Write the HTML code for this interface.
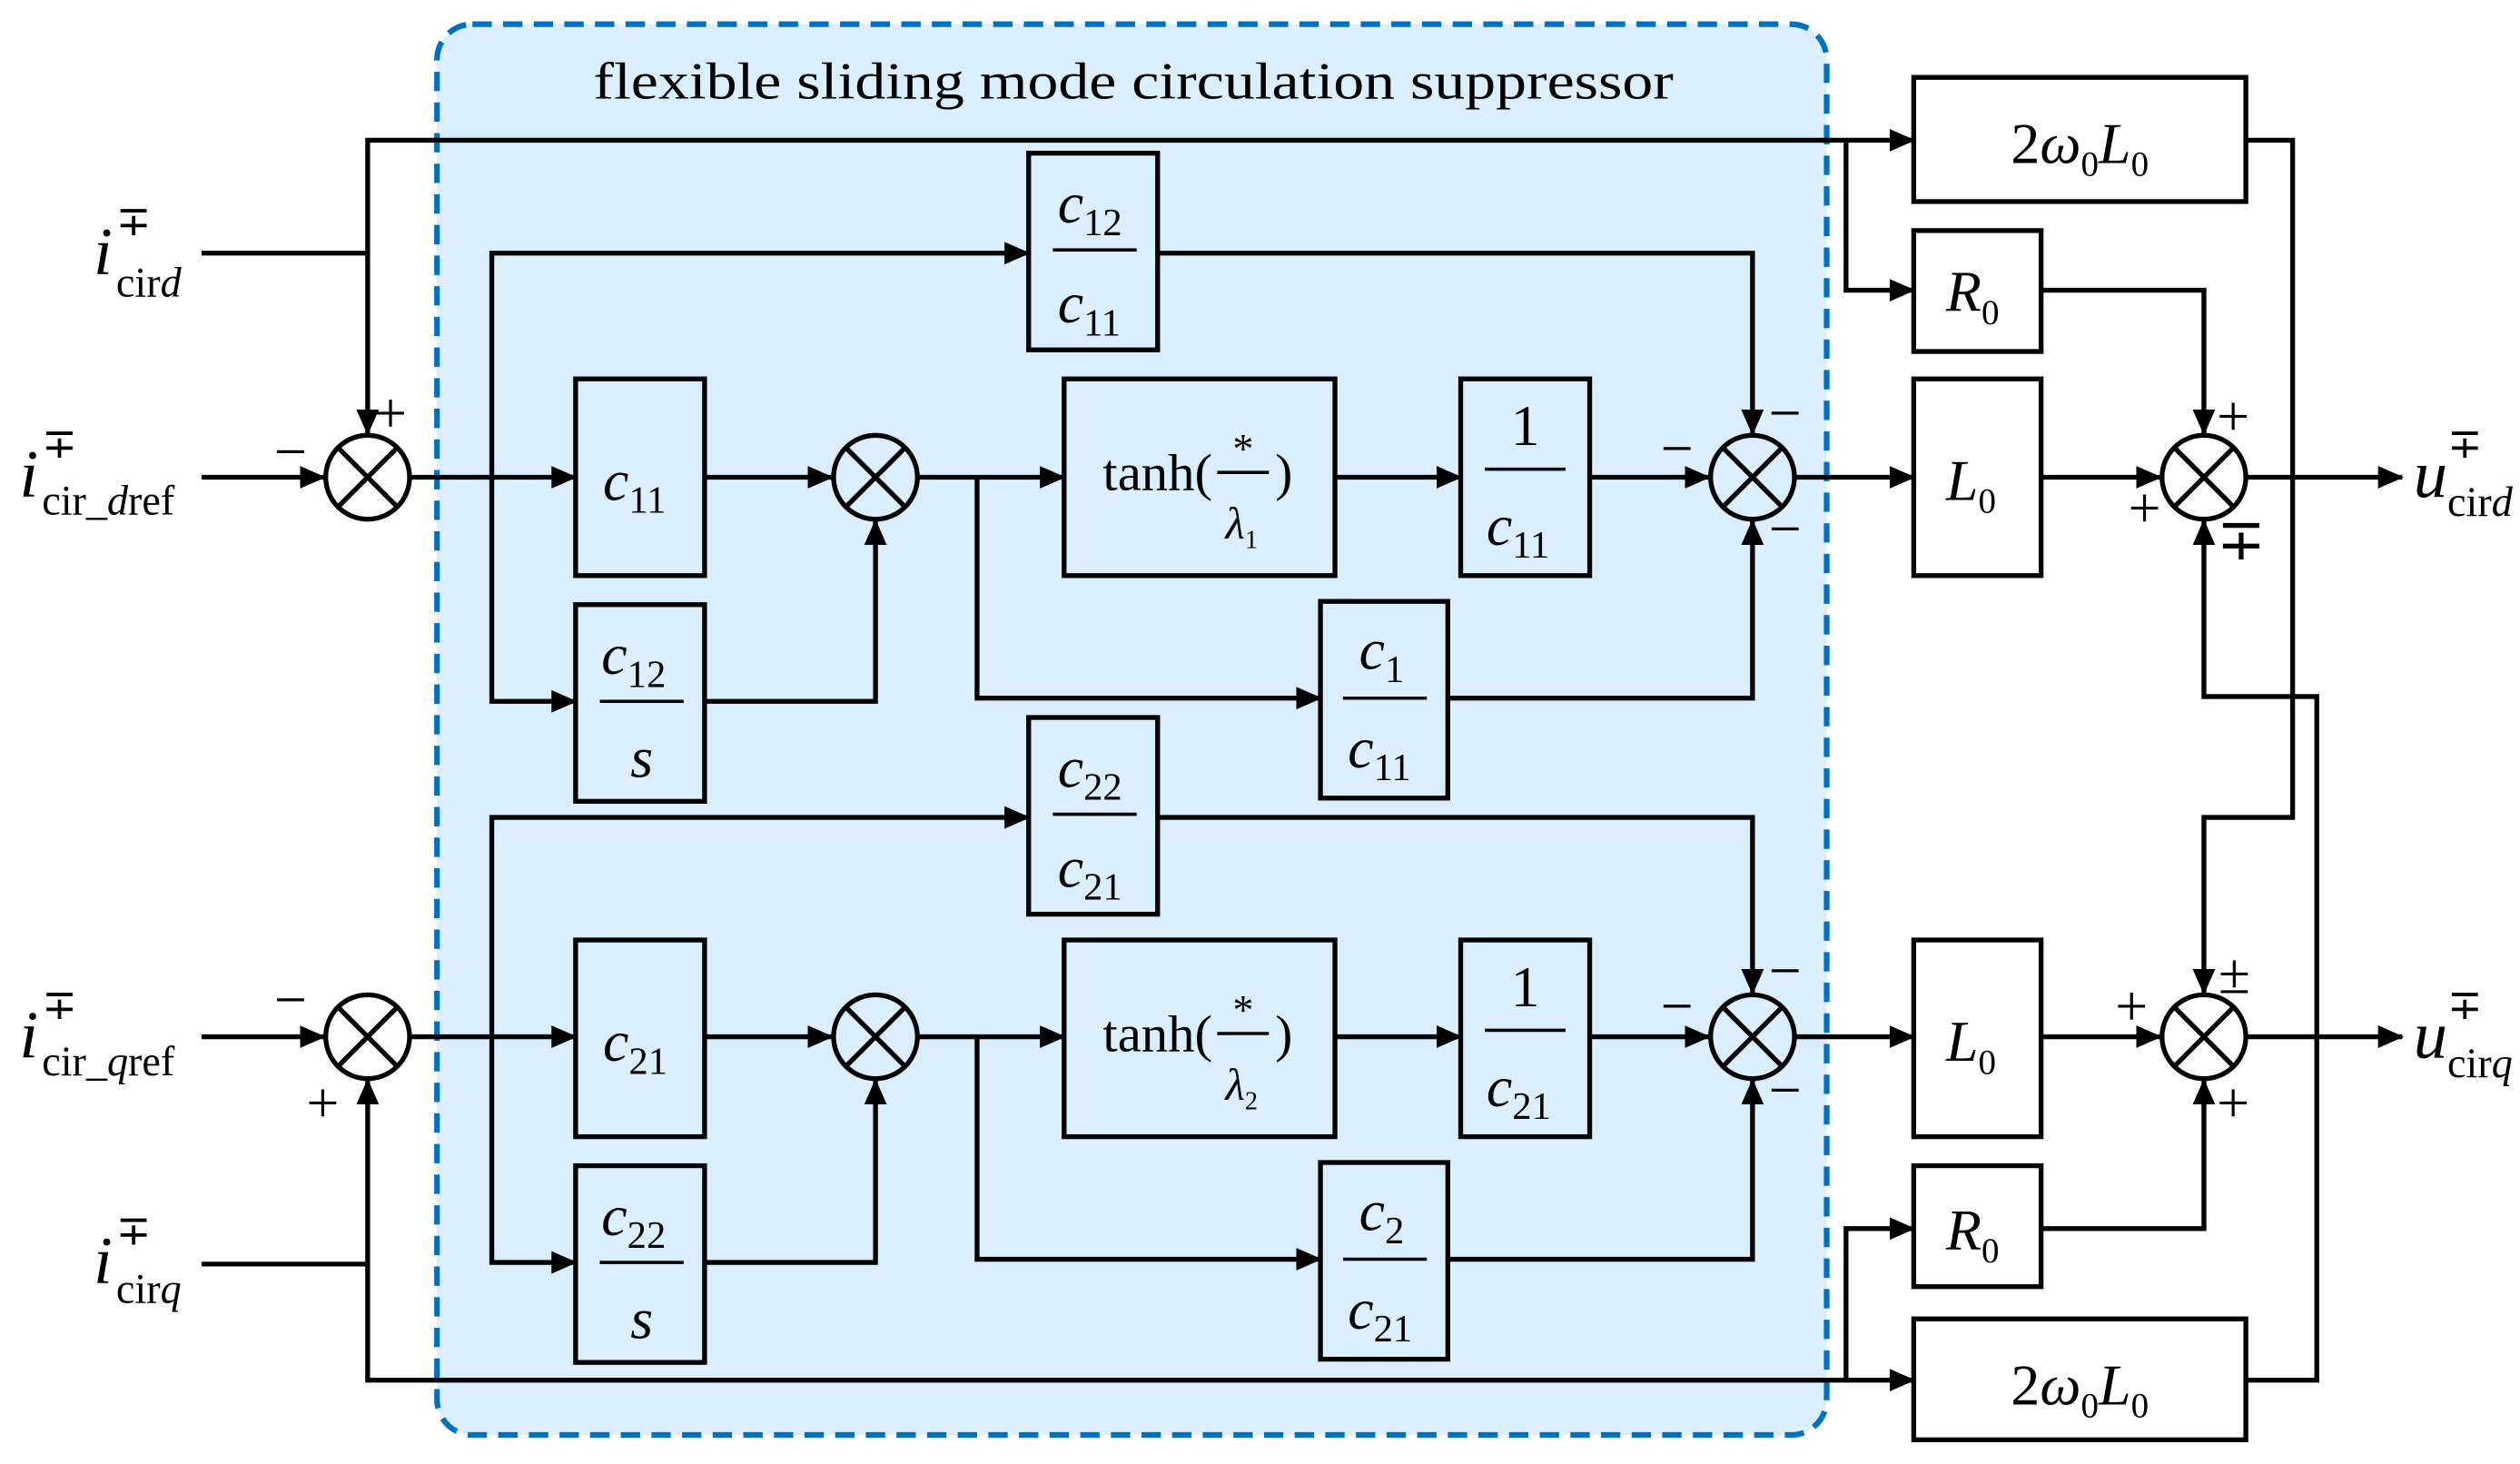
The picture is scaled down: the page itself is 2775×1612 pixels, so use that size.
<!DOCTYPE html>
<html><head><meta charset="utf-8"><style>html,body{margin:0;padding:0;background:#fff}svg{display:block}
text{font-family:"Liberation Serif",serif;fill:#000}
.m{font-style:italic}
</style></head><body>
<svg width="2775" height="1612" viewBox="0 0 1563 908" xmlns="http://www.w3.org/2000/svg">
<defs><marker id="a" markerUnits="userSpaceOnUse" markerWidth="16" markerHeight="14" refX="15" refY="7" orient="auto"><path d="M0,0 L16,7 L0,14 z" fill="#000"/></marker></defs>
<rect x="271" y="15" width="862" height="875" rx="22" fill="#dbeefe" stroke="#0070c0" stroke-width="3.5" stroke-dasharray="12,7"/>
<text x="368" y="61" font-size="32" textLength="670" lengthAdjust="spacingAndGlyphs">flexible sliding mode circulation suppressor</text>
<g fill="none" stroke="#000" stroke-width="3">
<rect x="1187" y="48" width="206" height="77"/><rect x="1187" y="143" width="79" height="75"/><rect x="1187" y="235" width="79" height="122"/>
<rect x="638" y="95" width="80" height="122"/><rect x="357" y="235" width="80" height="122"/><rect x="357" y="375" width="80" height="122"/>
<rect x="660" y="235" width="168" height="122"/><rect x="906" y="235" width="80" height="122"/><rect x="819" y="373" width="79" height="122"/>
<rect x="638" y="445" width="80" height="122"/><rect x="357" y="583" width="80" height="122"/><rect x="357" y="723" width="80" height="122"/>
<rect x="660" y="583" width="168" height="122"/><rect x="906" y="583" width="80" height="122"/><rect x="819" y="721" width="79" height="122"/>
<rect x="1187" y="583" width="79" height="122"/><rect x="1187" y="723" width="79" height="75"/><rect x="1187" y="818" width="206" height="75"/>
<circle cx="228" cy="296" r="26"/><circle cx="543" cy="296" r="26"/><circle cx="1087" cy="296" r="26"/><circle cx="1367" cy="296" r="26"/>
<circle cx="228" cy="643" r="26"/><circle cx="543" cy="643" r="26"/><circle cx="1087" cy="643" r="26"/><circle cx="1367" cy="643" r="26"/>
<path d="M209.6,277.6l36.8,36.8M246.4,277.6l-36.8,36.8M524.6,277.6l36.8,36.8M561.4,277.6l-36.8,36.8M1068.6,277.6l36.8,36.8M1105.4,277.6l-36.8,36.8M1348.6,277.6l36.8,36.8M1385.4,277.6l-36.8,36.8"/>
<path d="M209.6,624.6l36.8,36.8M246.4,624.6l-36.8,36.8M524.6,624.6l36.8,36.8M561.4,624.6l-36.8,36.8M1068.6,624.6l36.8,36.8M1105.4,624.6l-36.8,36.8M1348.6,624.6l36.8,36.8M1385.4,624.6l-36.8,36.8"/>
<g marker-end="url(#a)">
<path d="M125,157H228V269"/><path d="M228,157V87H1187"/><path d="M1145,87V180H1187"/>
<path d="M125,296H201"/><path d="M254,296H357"/><path d="M305,296V157H638"/><path d="M305,296V435H357"/>
<path d="M437,296H516"/><path d="M437,435H543V323"/><path d="M569,296H660"/><path d="M606,296V433H819"/>
<path d="M828,296H906"/><path d="M986,296H1060"/><path d="M718,157H1087V269"/><path d="M898,433H1087V323"/>
<path d="M1113,296H1187"/><path d="M1266,296H1340"/><path d="M1266,180H1367V269"/><path d="M1393,296H1490"/>
<path d="M1393,87H1422V507H1367V616"/><path d="M1393,856H1437V432H1367V323"/>
<path d="M125,784H228V670"/><path d="M228,784V856H1187"/><path d="M1145,856V762H1187"/>
<path d="M125,643H201"/><path d="M254,643H357"/><path d="M305,643V507H638"/><path d="M305,643V783H357"/>
<path d="M437,643H516"/><path d="M437,783H543V670"/><path d="M569,643H660"/><path d="M606,643V781H819"/>
<path d="M828,643H906"/><path d="M986,643H1060"/><path d="M718,507H1087V616"/><path d="M898,781H1087V670"/>
<path d="M1113,643H1187"/><path d="M1266,643H1340"/><path d="M1266,762H1367V670"/><path d="M1393,643H1490"/>
</g>
<path stroke-width="2" d="M653,155H705M372,435H424M921,291H971M833,433H885M653,505H705M372,783H424M921,639H971M833,781H885M755,293H787M755,641H787"/>
</g>
<g font-size="36">
<text x="1290" y="101" text-anchor="middle">2<tspan class="m">ω</tspan><tspan font-size="22" dy="8">0</tspan><tspan class="m" dy="-8">L</tspan><tspan font-size="22" dy="8">0</tspan></text>
<text x="1290" y="871" text-anchor="middle">2<tspan class="m">ω</tspan><tspan font-size="22" dy="8">0</tspan><tspan class="m" dy="-8">L</tspan><tspan font-size="22" dy="8">0</tspan></text>
<text x="1207" y="193" class="m">R<tspan font-size="22" dy="8" font-style="normal">0</tspan></text>
<text x="1207" y="775" class="m">R<tspan font-size="22" dy="8" font-style="normal">0</tspan></text>
<text x="1207" y="310" class="m">L<tspan font-size="22" dy="8" font-style="normal">0</tspan></text>
<text x="1207" y="658" class="m">L<tspan font-size="22" dy="8" font-style="normal">0</tspan></text>
<text x="374" y="310" class="m">c<tspan font-size="24" dy="8" font-style="normal">11</tspan></text>
<text x="374" y="658" class="m">c<tspan font-size="24" dy="8" font-style="normal">21</tspan></text>
<text x="656" y="138" class="m">c<tspan font-size="24" dy="8" font-style="normal">12</tspan></text>
<text x="656" y="200" class="m">c<tspan font-size="24" dy="8" font-style="normal">11</tspan></text>
<text x="656" y="488" class="m">c<tspan font-size="24" dy="8" font-style="normal">22</tspan></text>
<text x="656" y="550" class="m">c<tspan font-size="24" dy="8" font-style="normal">21</tspan></text>
<text x="373" y="418" class="m">c<tspan font-size="24" dy="8" font-style="normal">12</tspan></text>
<text x="398" y="482" class="m" text-anchor="middle">s</text>
<text x="373" y="766" class="m">c<tspan font-size="24" dy="8" font-style="normal">22</tspan></text>
<text x="398" y="830" class="m" text-anchor="middle">s</text>
<text x="946" y="276" text-anchor="middle">1</text>
<text x="922" y="338" class="m">c<tspan font-size="24" dy="8" font-style="normal">11</tspan></text>
<text x="946" y="624" text-anchor="middle">1</text>
<text x="922" y="686" class="m">c<tspan font-size="24" dy="8" font-style="normal">21</tspan></text>
<text x="843" y="415" class="m">c<tspan font-size="24" dy="8" font-style="normal">1</tspan></text>
<text x="836" y="476" class="m">c<tspan font-size="24" dy="8" font-style="normal">11</tspan></text>
<text x="843" y="763" class="m">c<tspan font-size="24" dy="8" font-style="normal">2</tspan></text>
<text x="836" y="824" class="m">c<tspan font-size="24" dy="8" font-style="normal">21</tspan></text>
</g>
<g font-size="32">
<text x="684" y="304" textLength="68" lengthAdjust="spacingAndGlyphs">tanh(</text><text x="791" y="304">)</text>
<text x="771" y="287" text-anchor="middle" font-size="26">*</text>
<text x="760" y="334" class="m" font-size="28">λ<tspan font-size="16" dy="6" font-style="normal">1</tspan></text>
<text x="684" y="652" textLength="68" lengthAdjust="spacingAndGlyphs">tanh(</text><text x="791" y="652">)</text>
<text x="771" y="635" text-anchor="middle" font-size="26">*</text>
<text x="760" y="682" class="m" font-size="28">λ<tspan font-size="16" dy="6" font-style="normal">2</tspan></text>
</g>
<g font-size="42">
<text x="58" y="170" class="m">i</text><text x="72" y="146" font-size="26">∓</text><text x="72" y="184" font-size="26">cir<tspan class="m">d</tspan></text>
<text x="12" y="308" class="m">i</text><text x="26" y="284" font-size="26">∓</text><text x="26" y="319" font-size="26">cir_<tspan class="m">d</tspan>ref</text>
<text x="12" y="656" class="m">i</text><text x="26" y="632" font-size="26">∓</text><text x="26" y="667" font-size="26">cir_<tspan class="m">q</tspan>ref</text>
<text x="58" y="796" class="m">i</text><text x="72" y="772" font-size="26">∓</text><text x="72" y="808" font-size="26">cir<tspan class="m">q</tspan></text>
<text x="1497" y="308" class="m">u</text><text x="1518" y="284" font-size="26">∓</text><text x="1518" y="320" font-size="26">cir<tspan class="m">d</tspan></text>
<text x="1497" y="656" class="m">u</text><text x="1518" y="632" font-size="26">∓</text><text x="1518" y="668" font-size="26">cir<tspan class="m">q</tspan></text>
</g>
<g font-size="36">
<text x="232" y="268">+</text><text x="170" y="292">−</text>
<text x="170" y="632">−</text><text x="190" y="696">+</text>
<text x="1097" y="268">−</text><text x="1030" y="290">−</text><text x="1097" y="340">−</text>
<text x="1097" y="614">−</text><text x="1030" y="636">−</text><text x="1097" y="688">−</text>
<text x="1375" y="270">+</text><text x="1320" y="327">+</text><text x="1375" y="347">∓</text>
<text x="1376" y="616">±</text><text x="1312" y="636">+</text><text x="1375" y="696">+</text>
</g>
</svg>
</body></html>
